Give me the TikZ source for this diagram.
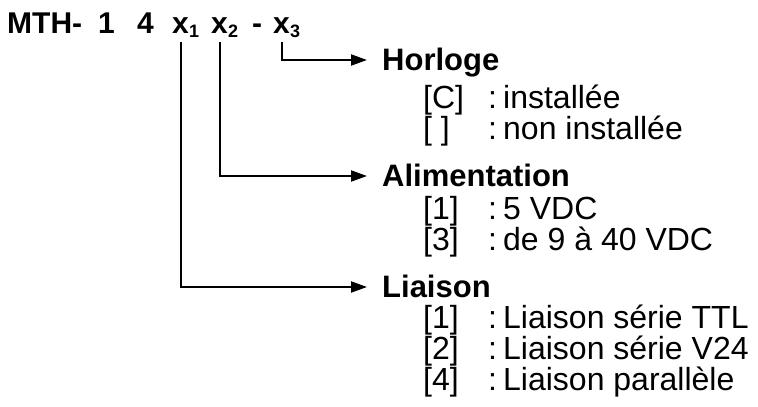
\documentclass[tikz,border=0pt]{standalone}
\usepackage{fontspec}
\setmainfont{Liberation Sans}
\usetikzlibrary{arrows.meta}
\begin{document}
\begin{tikzpicture}[x=1pt,y=-1pt,
  txt/.style={inner sep=0pt, anchor=base west, font=\fontsize{32}{34}\selectfont},
  hd/.style={inner sep=0pt, anchor=base west, font=\fontsize{31}{34}\selectfont\bfseries},
  ttl/.style={inner sep=0pt, anchor=base west, font=\fontsize{30}{34}\selectfont\bfseries},
  sub/.style={inner sep=0pt, anchor=base west, font=\fontsize{18}{20}\selectfont\bfseries},
  conn/.style={line width=2pt, -{Triangle[length=16pt,width=11pt]}}]
\useasboundingbox (0,0) rectangle (758,407);
% title
\node[ttl] (mth) at (7,33) {MTH-};
\node[ttl] (one) at (98,33) {1};
\node[ttl] (four) at (137,33) {4};
\node[ttl] (x1) at (172,33) {x};
\node[sub] (s1) at (189,37) {1};
\node[ttl] (x2) at (211,33) {x};
\node[sub] (s2) at (228,37) {2};
\node[ttl] (dash) at (252,33) {-};
\node[ttl] (x3) at (273,33) {x};
\node[sub] (s3) at (290,37) {3};
% Horloge
\node[hd] (hor) at (382,70) {Horloge};
\node[txt] (hc) at (423,108) {[C]};
\node[txt] (hcc) at (488,108) {:};
\node[txt] (hct) at (503,108) {installée};
\node[txt] (hn) at (423,139) {[ ]};
\node[txt] (hnc) at (488,139) {:};
\node[txt] (hnt) at (503,139) {non installée};
% Alimentation
\node[hd] (ali) at (382,186) {Alimentation};
\node[txt] (a1) at (423,219) {[1]};
\node[txt] (a1c) at (488,219) {:};
\node[txt] (a1t) at (503,219) {5 VDC};
\node[txt] (a3) at (423,250) {[3]};
\node[txt] (a3c) at (488,250) {:};
\node[txt] (a3t) at (503,250) {de 9 à 40 VDC};
% Liaison
\node[hd] (lia) at (382,297) {Liaison};
\node[txt] (l1) at (423,328) {[1]};
\node[txt] (l1c) at (488,328) {:};
\node[txt] (l1t) at (503,328) {Liaison série TTL};
\node[txt] (l2) at (423,359) {[2]};
\node[txt] (l2c) at (488,359) {:};
\node[txt] (l2t) at (503,359) {Liaison série V24};
\node[txt] (l4) at (423,390) {[4]};
\node[txt] (l4c) at (488,390) {:};
\node[txt] (l4t) at (503,390) {Liaison parallèle};
% connectors
\draw[conn] ([yshift=-9pt]x3.south) |- ([xshift=-15pt,yshift=10pt]hor.base west);
\draw[conn] ([yshift=-9pt]x2.south) |- ([xshift=-15pt,yshift=10pt]ali.base west);
\draw[conn] ([yshift=-9pt]x1.south) |- ([xshift=-15pt,yshift=10pt]lia.base west);
\end{tikzpicture}
\end{document}
